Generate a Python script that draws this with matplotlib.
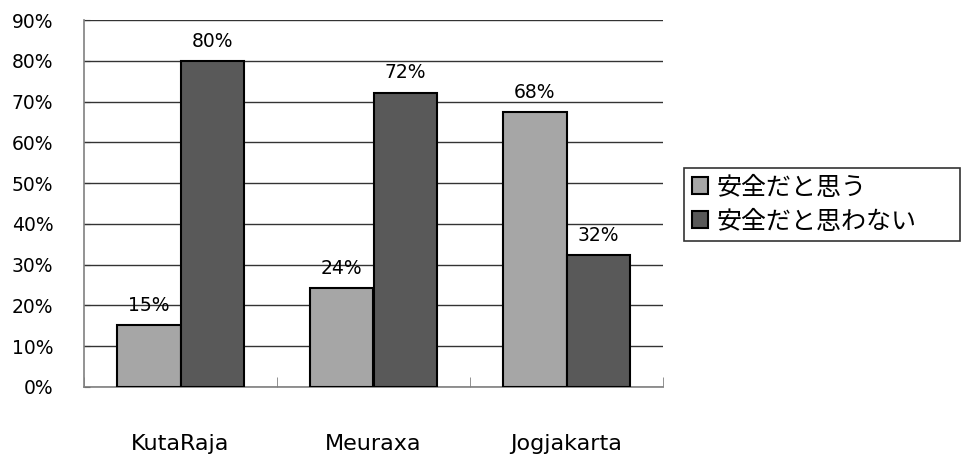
import matplotlib
matplotlib.use("Agg")
import matplotlib.pyplot as plt
import numpy as np

plt.rcParams['font.family'] = ['DejaVu Sans', 'Noto Sans CJK JP']

categories = ["KutaRaja", "Meuraxa", "Jogjakarta"]
series_names = ["安全だと思う", "安全だと思わない"]
safe = [15.2, 24.3, 67.5]
not_safe = [80.0, 72.2, 32.4]
safe_labels = ["15%", "24%", "68%"]
not_safe_labels = ["80%", "72%", "32%"]
yticks = [0, 10, 20, 30, 40, 50, 60, 70, 80, 90]

fig = plt.figure(figsize=(9.63, 4.61), dpi=100)
ax = fig.add_axes([84/963, 1-387/461, (663-84)/963, (387-20)/461])

x = np.arange(len(categories))
w = 0.33
b1 = ax.bar(x - w/2, safe, w, color="#A6A6A6", edgecolor="black", linewidth=1.5, label=series_names[0], zorder=3)
b2 = ax.bar(x + w/2, not_safe, w, color="#595959", edgecolor="black", linewidth=1.5, label=series_names[1], zorder=3)

for rect, lab in zip(b1, safe_labels):
    ax.text(rect.get_x() + rect.get_width()/2, rect.get_height() + 2.5, lab,
            ha="center", va="bottom", fontsize=13.5)
for rect, lab in zip(b2, not_safe_labels):
    ax.text(rect.get_x() + rect.get_width()/2, rect.get_height() + 2.5, lab,
            ha="center", va="bottom", fontsize=13.5)

ax.set_xlim(-0.5, 2.5)
ax.set_ylim(0, 90)
ax.set_yticks(yticks)
ax.set_yticklabels([f"{v}%" for v in yticks], fontsize=13.5)
ax.yaxis.grid(True, color="#333333", linewidth=1, zorder=0)
ax.set_axisbelow(True)
ax.tick_params(axis="y", length=4, direction="in", color="#333333", pad=22)

ax.set_xticks(x)
ax.set_xticklabels(categories, fontsize=16)
ax.tick_params(axis="x", length=0, pad=34)
ax.set_xticks([-0.5, 0.5, 1.5, 2.5], minor=True)
ax.tick_params(axis="x", which="minor", length=7, direction="in", color="#808080")

for s in ["right", "top"]:
    ax.spines[s].set_visible(False)
ax.spines["left"].set_color("#808080")
ax.spines["bottom"].set_color("#808080")
ax.spines["left"].set_linewidth(1.2)
ax.spines["bottom"].set_linewidth(1.2)

leg = fig.legend(loc="upper left",
                 bbox_to_anchor=(684/963, 1-241/461, (960-684)/963, (241-168)/461),
                 mode="expand",
                 fontsize=18, frameon=True, fancybox=False, edgecolor="black",
                 handlelength=0.65, handleheight=0.65, handletextpad=0.35,
                 borderpad=0.3, labelspacing=0.4, borderaxespad=0)
leg.get_frame().set_linewidth(1.2)

fig.savefig("out.png", dpi=100)
